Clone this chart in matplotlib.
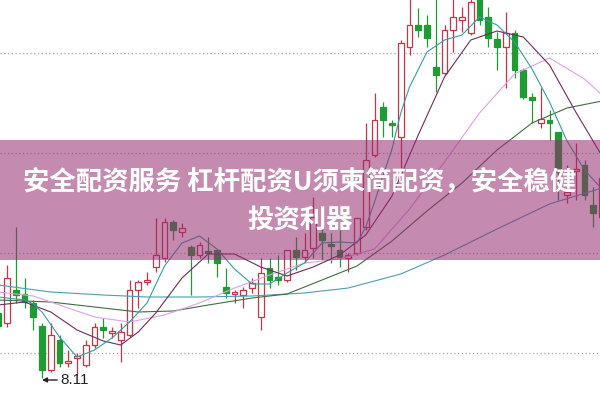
import matplotlib
matplotlib.use("Agg")
import matplotlib.pyplot as plt
import numpy as np

# daily candles, index -1 .. 68
idx = np.arange(-1, 69)
opens = [8.76, 8.66, 8.99, 8.95, 8.86, 8.63, 8.19, 8.49, 8.26, 8.31,
         8.24, 8.44, 8.62, 8.56, 8.49, 8.54, 8.99, 9.07, 9.22, 9.31,
         9.67, 9.57, 9.42, 9.34, 9.38, 9.39, 9.02, 8.95, 8.94, 9.01,
         8.72, 9.21, 9.12, 9.09, 9.39, 9.32, 9.41, 9.56, 9.45, 9.39,
         9.31, 9.36, 9.62, 10.34, 10.82, 10.66, 10.52, 11.42, 11.64, 11.64,
         11.22, 11.16, 11.59, 11.69, 11.56, 11.94, 11.72, 11.50, 11.42, 11.56,
         11.19, 10.92, 10.66, 10.69, 10.57, 9.94, 10.18, 10.24, 9.84, 9.72]
highs = [8.81, 9.24, 9.62, 9.11, 8.89, 8.66, 8.66, 8.54, 8.39, 8.36,
         8.49, 8.66, 8.71, 8.62, 8.66, 9.09, 9.09, 9.17, 9.71, 9.71,
         9.69, 9.66, 9.44, 9.47, 9.52, 9.39, 9.21, 8.99, 9.02, 9.11,
         9.31, 9.31, 9.34, 9.39, 9.52, 9.56, 9.92, 9.71, 9.56, 9.59,
         9.36, 9.71, 10.66, 10.96, 10.87, 10.69, 11.49, 11.95, 11.81, 11.74,
         11.94, 11.64, 11.91, 11.82, 11.94, 11.99, 11.82, 11.57, 11.77, 11.59,
         11.21, 10.96, 11.01, 10.79, 10.57, 10.24, 10.46, 10.29, 10.02, 10.19]
lows = [8.59, 8.62, 8.86, 8.81, 8.59, 8.11, 8.17, 8.22, 8.22, 8.14,
        8.22, 8.41, 8.51, 8.51, 8.27, 8.52, 8.81, 9.04, 9.17, 9.27,
        9.49, 9.52, 8.94, 9.31, 9.26, 9.12, 8.91, 8.86, 8.81, 8.96,
        8.59, 9.01, 9.04, 9.07, 9.19, 9.26, 9.31, 9.29, 9.26, 9.22,
        9.17, 9.34, 9.59, 10.32, 10.52, 10.52, 10.21, 11.34, 11.52, 11.42,
        10.97, 11.14, 11.37, 11.57, 11.54, 11.64, 11.42, 11.19, 11.01, 11.11,
        10.90, 10.66, 10.61, 10.49, 9.89, 9.86, 9.89, 9.89, 9.62, 9.67]
closes = [8.63, 9.11, 8.94, 8.87, 8.72, 8.19, 8.54, 8.26, 8.28, 8.33,
          8.44, 8.62, 8.59, 8.58, 8.57, 8.99, 9.07, 9.09, 9.34, 9.67,
          9.59, 9.61, 9.34, 9.44, 9.36, 9.26, 8.96, 8.97, 8.99, 9.06,
          9.16, 9.09, 9.09, 9.39, 9.32, 9.39, 9.72, 9.49, 9.43, 9.32,
          9.34, 9.71, 10.29, 10.69, 10.69, 10.64, 11.46, 11.64, 11.59, 11.51,
          11.14, 11.59, 11.72, 11.72, 11.87, 11.69, 11.51, 11.42, 11.56, 11.19,
          10.92, 10.89, 10.70, 10.66, 10.17, 9.97, 10.20, 9.94, 9.76, 10.11]

# moving average lines
ma5_x = [-1, 0, 2, 3, 4, 6, 8, 10, 12, 14, 16, 18, 20, 22, 24, 26, 28, 30, 32, 34,
         36, 38, 40, 41, 42, 43, 44, 45, 46, 48, 50, 52, 54, 56, 58, 60, 62, 64, 66, 68]
ma5_y = [8.92, 8.91, 8.89, 8.85, 8.77, 8.52, 8.32, 8.39, 8.51, 8.67, 8.86, 9.23, 9.46,
         9.53, 9.40, 9.20, 9.05, 9.05, 9.16, 9.26, 9.46, 9.47, 9.46, 9.62, 9.87, 10.14,
         10.40, 10.76, 11.02, 11.37, 11.49, 11.54, 11.72, 11.64, 11.47, 11.20, 10.87,
         10.48, 10.19, 10.00]
ma10_x = [-1, 2, 5, 8, 11, 13, 15, 17, 20, 23, 26, 29, 32, 35, 38, 41, 44, 47, 50,
          53, 56, 59, 62, 65, 68]
ma10_y = [8.84, 8.87, 8.77, 8.59, 8.48, 8.44, 8.57, 8.76, 9.11, 9.35, 9.35, 9.22,
          9.13, 9.22, 9.34, 9.54, 9.93, 10.54, 11.12, 11.49, 11.58, 11.52, 11.24,
          10.77, 10.33]
ma20_x = [-1, 3, 6, 10, 14, 18, 22, 26, 30, 34, 38, 42, 46, 50, 54, 58, 62, 66, 68]
ma20_y = [8.97, 8.93, 8.84, 8.72, 8.67, 8.74, 8.86, 9.01, 9.14, 9.26, 9.30, 9.40,
          9.80, 10.27, 10.76, 11.15, 11.31, 11.10, 10.94]
ma30_x = [-1, 5, 10, 15, 19, 23, 28, 32, 36, 40, 44, 48, 52, 56, 60, 64, 68]
ma30_y = [8.89, 8.87, 8.82, 8.77, 8.78, 8.84, 8.91, 8.95, 9.09, 9.23, 9.48, 9.78,
          10.06, 10.39, 10.66, 10.81, 10.88]
ma60_x = [-1, 5, 11, 16, 22, 28, 34, 39, 45, 50, 56, 62, 68]
ma60_y = [9.04, 8.97, 8.94, 8.92, 8.92, 8.93, 8.96, 9.01, 9.15, 9.34, 9.60, 9.85, 10.01]

grid_levels = [11.36, 10.36, 9.36, 8.36]
low_label = "8.11"
title1 = "安全配资服务 杠杆配资U须柬简配资，安全稳健"
title2 = "投资利器"

RED = "#cc3344"
GREEN = "#1e9b32"

fig = plt.figure(figsize=(6, 4), dpi=100)
ax = fig.add_axes([0, 0, 1, 1])
ax.set_xlim(-0.8, 67.77)
ax.set_ylim(7.89, 11.89)
ax.axis("off")

for g in grid_levels:
    ax.axhline(g, color="#a8a8a8", lw=0.9, ls=(0, (1, 2)), zorder=0)

o = np.array(opens)
c = np.array(closes)
up = c >= o
cols = np.where(up, RED, GREEN)
faces = np.where(up, "white", GREEN)

ax.vlines(idx, lows, highs, colors=cols, lw=0.9, zorder=1)
body = np.maximum(np.abs(c - o), 0.012)
ax.bar(idx, body, bottom=np.minimum(o, c), width=0.68, color=faces,
       edgecolor=cols, linewidth=0.9, zorder=2)

ax.plot(ma60_x, ma60_y, color="#4a9fb5", lw=0.8, zorder=3)
ax.plot(ma30_x, ma30_y, color="#3f6f3f", lw=0.8, zorder=3)
ax.plot(ma20_x, ma20_y, color="#e2a0e2", lw=0.8, zorder=3)
ax.plot(ma10_x, ma10_y, color="#6e2c5e", lw=0.8, zorder=3)
ax.plot(ma5_x, ma5_y, color="#2f9fa3", lw=0.8, zorder=3)

# low marker
ax.annotate(low_label, xy=(4.0, 8.09), xytext=(6.05, 8.09), va="center", ha="left",
            fontsize=11, family="Liberation Sans", color="#222222",
            arrowprops=dict(arrowstyle="-|>", color="#222222", lw=1.0,
                            mutation_scale=7, shrinkA=0, shrinkB=0), zorder=4)

# pink banner over the chart
ax.axhspan(9.29, 10.49, color="#942a6f", alpha=0.55, lw=0, zorder=5)
fam = ["Noto Sans CJK SC", "DejaVu Sans"]
fig.text(0.5, 1 - 183 / 400, title1, ha="center", va="center", fontsize=19,
         fontweight="bold", color="white", family=fam, zorder=6)
fig.text(0.5, 1 - 221 / 400, title2, ha="center", va="center", fontsize=19,
         fontweight="bold", color="white", family=fam, zorder=6)

fig.savefig("out.png", dpi=100)
